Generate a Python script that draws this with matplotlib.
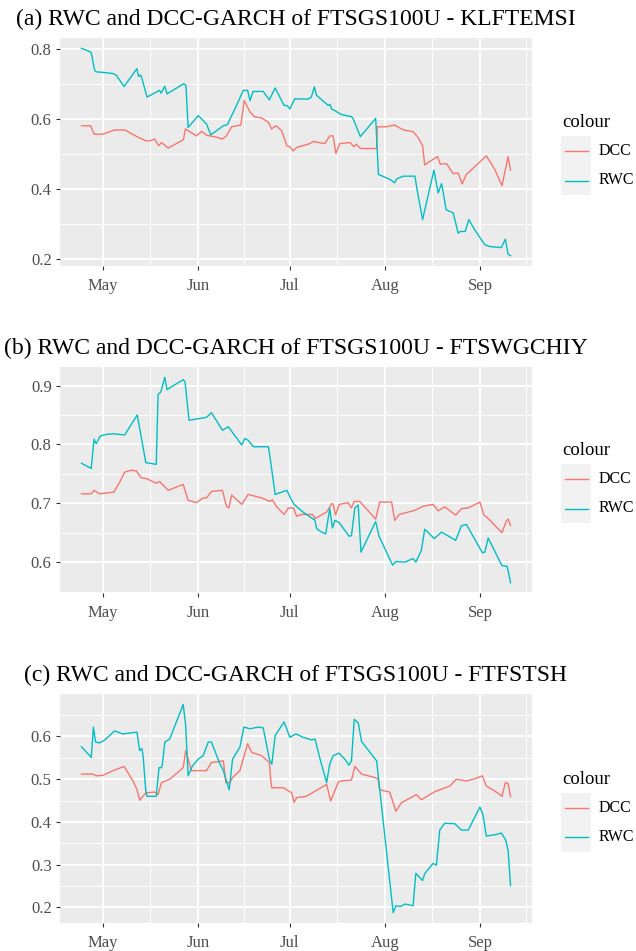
import pandas as pd
import matplotlib
matplotlib.use("Agg")
import matplotlib.pyplot as plt
import matplotlib.dates as mdates
from matplotlib.patches import Rectangle
from matplotlib.lines import Line2D

BASE_DATE = pd.Timestamp("2020-05-01")

# days counted from 1 May
a_rwc_day = [-7.0, -4.9, -3.8, -2.7, -2.2, 0.5, 3.3, 4.4, 6.9, 11.1, 11.6, 12.3, 12.8, 14.4, 17.4, 18.5, 19.0, 20.2, 20.9,
             26.4, 27.1, 27.8, 31.1, 33.8, 35.2, 39.3, 40.6, 43.6, 45.8, 47.2, 48.0, 49.0, 52.3, 54.3, 56.2, 59.1, 60.0,
             61.0, 62.6, 67.0, 68.0, 69.0, 69.7, 73.5, 74.1, 74.6, 75.7, 77.8, 81.1, 81.6, 84.0, 89.0, 89.9, 93.6, 95.2,
             95.8, 98.0, 101.8, 102.6, 104.3, 108.0, 109.4, 110.5, 112.0, 114.3, 115.9, 116.6, 118.2, 119.4, 121.3,
             124.6, 126.2, 130.0, 131.3, 132.2, 133.0]
a_rwc_val = [0.803, 0.796, 0.791, 0.740, 0.736, 0.734, 0.731, 0.726, 0.694, 0.745, 0.723, 0.727, 0.715, 0.664, 0.678,
             0.683, 0.675, 0.695, 0.673, 0.702, 0.697, 0.577, 0.611, 0.587, 0.556, 0.582, 0.585, 0.640, 0.683, 0.683,
             0.654, 0.680, 0.680, 0.656, 0.690, 0.640, 0.640, 0.630, 0.659, 0.658, 0.664, 0.693, 0.669, 0.640, 0.643,
             0.630, 0.625, 0.614, 0.608, 0.603, 0.551, 0.603, 0.443, 0.429, 0.419, 0.430, 0.438, 0.438, 0.395, 0.314,
             0.455, 0.390, 0.417, 0.342, 0.333, 0.275, 0.280, 0.280, 0.314, 0.285, 0.242, 0.237, 0.234, 0.258, 0.215,
             0.211]
a_dcc_day = [-7.0, -4.0, -2.9, 0.0, 3.8, 7.1, 11.5, 14.0, 15.3, 16.9, 18.2, 19.1, 21.3, 25.6, 26.3, 26.9, 30.5, 32.2,
             33.8, 37.1, 39.0, 40.3, 42.0, 45.0, 46.1, 48.0, 49.4, 51.8, 54.0, 55.0, 56.5, 58.3, 60.0, 61.0, 62.1, 63.2,
             65.3, 67.5, 68.6, 72.4, 74.0, 75.1, 76.0, 77.3, 80.6, 81.9, 82.7, 84.0, 89.3, 89.5, 92.5, 95.2, 98.0, 101.2,
             102.8, 104.3, 105.0, 107.2, 109.2, 110.1, 112.1, 114.3, 115.9, 117.2, 118.6, 125.1, 127.8, 130.2, 132.2,
             133.0]
a_dcc_val = [0.582, 0.582, 0.558, 0.558, 0.570, 0.570, 0.549, 0.539, 0.539, 0.544, 0.525, 0.534, 0.518, 0.539, 0.543,
             0.573, 0.553, 0.566, 0.555, 0.549, 0.544, 0.553, 0.579, 0.584, 0.654, 0.621, 0.608, 0.604, 0.592, 0.573,
             0.582, 0.568, 0.525, 0.522, 0.510, 0.520, 0.525, 0.531, 0.537, 0.531, 0.553, 0.553, 0.503, 0.531, 0.534,
             0.522, 0.529, 0.517, 0.517, 0.579, 0.579, 0.584, 0.570, 0.565, 0.549, 0.525, 0.470, 0.483, 0.494, 0.472,
             0.474, 0.445, 0.447, 0.416, 0.443, 0.496, 0.458, 0.411, 0.494, 0.455]

b_rwc_day = [-7.0, -3.8, -2.9, -2.2, -0.9, 1.1, 3.3, 7.1, 11.2, 14.0, 15.3, 17.4, 18.0, 18.9, 20.2, 20.9, 26.2, 26.8,
             28.1, 33.8, 35.4, 39.0, 40.9, 45.3, 46.3, 47.4, 49.1, 54.0, 54.5, 56.2, 60.0, 61.6, 62.4, 65.3, 69.2, 69.7,
             71.3, 72.7, 74.0, 74.9, 75.7, 77.1, 80.3, 81.1, 82.2, 83.3, 84.2, 89.0, 90.1, 94.5, 95.6, 98.5, 101.2,
             102.1, 103.9, 105.0, 108.1, 110.5, 115.1, 117.0, 118.6, 123.8, 124.6, 125.7, 130.2, 131.9, 133.0]
b_rwc_val = [0.768, 0.759, 0.809, 0.801, 0.814, 0.817, 0.818, 0.816, 0.850, 0.769, 0.768, 0.766, 0.885, 0.889, 0.914,
             0.893, 0.910, 0.906, 0.841, 0.846, 0.854, 0.824, 0.830, 0.799, 0.810, 0.807, 0.796, 0.796, 0.779, 0.715,
             0.722, 0.705, 0.698, 0.685, 0.671, 0.657, 0.651, 0.648, 0.691, 0.658, 0.671, 0.667, 0.644, 0.645, 0.692,
             0.697, 0.617, 0.669, 0.644, 0.595, 0.601, 0.600, 0.606, 0.600, 0.620, 0.656, 0.640, 0.651, 0.637, 0.662,
             0.664, 0.616, 0.617, 0.641, 0.594, 0.593, 0.565]
b_dcc_day = [-7.0, -3.8, -2.9, -1.1, 3.6, 5.5, 7.1, 9.3, 10.9, 12.5, 14.2, 17.4, 18.5, 21.3, 26.2, 27.8, 30.5, 32.7,
             33.8, 35.4, 39.0, 40.3, 41.1, 42.0, 45.3, 47.4, 51.8, 54.5, 55.3, 56.7, 59.1, 60.5, 62.2, 63.2, 64.8, 68.4,
             69.2, 73.0, 74.6, 75.1, 75.9, 77.1, 80.0, 81.1, 82.0, 83.8, 89.0, 90.3, 94.2, 95.2, 96.7, 101.8, 104.5,
             107.7, 109.4, 111.5, 115.1, 117.0, 119.2, 123.0, 124.3, 125.1, 130.2, 131.7, 132.2, 133.0]
b_dcc_val = [0.716, 0.716, 0.722, 0.716, 0.719, 0.736, 0.753, 0.756, 0.755, 0.743, 0.742, 0.734, 0.737, 0.722, 0.732,
             0.705, 0.701, 0.709, 0.709, 0.720, 0.722, 0.695, 0.692, 0.714, 0.698, 0.715, 0.709, 0.703, 0.706, 0.694,
             0.681, 0.692, 0.692, 0.678, 0.681, 0.681, 0.674, 0.685, 0.699, 0.699, 0.680, 0.698, 0.701, 0.692, 0.703,
             0.703, 0.673, 0.702, 0.702, 0.671, 0.681, 0.688, 0.695, 0.698, 0.687, 0.694, 0.680, 0.691, 0.692, 0.702,
             0.680, 0.677, 0.650, 0.671, 0.673, 0.662]

c_rwc_day = [-7.0, -3.8, -3.1, -2.4, -1.1, 0.5, 3.8, 6.5, 11.1, 12.0, 12.7, 13.1, 14.0, 14.4, 17.4, 18.3, 19.1, 19.4,
             20.2, 21.8, 26.2, 27.0, 27.8, 29.2, 31.1, 32.7, 34.4, 35.4, 38.0, 39.3, 41.2, 42.3, 44.7, 46.0, 48.0, 50.7,
             52.3, 54.3, 55.1, 56.2, 59.1, 61.0, 63.0, 65.3, 68.1, 69.2, 71.0, 73.0, 74.0, 75.1, 77.0, 78.9, 80.3, 81.1,
             82.0, 83.3, 84.4, 89.3, 94.7, 95.6, 97.0, 98.5, 101.2, 102.1, 104.3, 105.0, 107.7, 108.8, 109.9, 111.5,
             114.8, 117.0, 119.2, 123.0, 124.0, 125.1, 127.8, 130.0, 131.4, 132.2, 133.0]
c_rwc_val = [0.576, 0.551, 0.622, 0.587, 0.585, 0.591, 0.613, 0.606, 0.610, 0.567, 0.572, 0.556, 0.472, 0.460, 0.460,
             0.527, 0.527, 0.535, 0.587, 0.594, 0.675, 0.626, 0.508, 0.531, 0.547, 0.555, 0.587, 0.587, 0.539, 0.520,
             0.475, 0.547, 0.575, 0.622, 0.618, 0.622, 0.620, 0.547, 0.535, 0.602, 0.634, 0.598, 0.606, 0.598, 0.592,
             0.594, 0.543, 0.492, 0.535, 0.555, 0.561, 0.547, 0.533, 0.543, 0.640, 0.632, 0.588, 0.543, 0.188, 0.204,
             0.202, 0.208, 0.204, 0.280, 0.263, 0.279, 0.303, 0.299, 0.381, 0.397, 0.396, 0.381, 0.381, 0.435, 0.417,
             0.367, 0.370, 0.374, 0.358, 0.334, 0.251]
c_dcc_day = [-7.0, -3.3, -2.2, 0.0, 3.3, 6.9, 9.8, 11.1, 12.0, 14.0, 16.9, 18.0, 19.1, 21.8, 26.2, 27.0, 28.9, 33.8,
             35.4, 39.3, 40.1, 41.4, 42.3, 44.7, 47.2, 48.5, 51.8, 54.3, 54.8, 55.1, 58.9, 61.6, 62.4, 63.2, 66.4, 69.2,
             73.0, 74.3, 76.8, 77.8, 81.1, 82.2, 84.4, 88.7, 89.8, 90.3, 93.6, 95.6, 97.4, 102.3, 103.9, 108.3, 113.2,
             115.3, 118.6, 121.3, 123.8, 125.1, 128.4, 130.2, 131.3, 132.2, 133.0]
c_dcc_val = [0.512, 0.512, 0.508, 0.509, 0.520, 0.530, 0.496, 0.476, 0.451, 0.468, 0.470, 0.464, 0.492, 0.500, 0.527,
             0.567, 0.520, 0.520, 0.539, 0.543, 0.492, 0.492, 0.504, 0.520, 0.583, 0.563, 0.555, 0.539, 0.496, 0.480,
             0.480, 0.468, 0.446, 0.457, 0.460, 0.472, 0.488, 0.449, 0.493, 0.496, 0.498, 0.530, 0.512, 0.504, 0.500,
             0.475, 0.470, 0.425, 0.445, 0.464, 0.452, 0.471, 0.484, 0.500, 0.496, 0.501, 0.508, 0.484, 0.470, 0.460,
             0.492, 0.490, 0.459]

titles = ["(a) RWC and DCC-GARCH of FTSGS100U - KLFTEMSI",
          "(b) RWC and DCC-GARCH of FTSGS100U - FTSWGCHIY",
          "(c) RWC and DCC-GARCH of FTSGS100U - FTFSTSH"]
y_breaks = [[0.2, 0.4, 0.6, 0.8], [0.6, 0.7, 0.8, 0.9], [0.2, 0.3, 0.4, 0.5, 0.6]]
month_breaks = ["2020-05-01", "2020-06-01", "2020-07-01", "2020-08-01", "2020-09-01"]
series_names = ["DCC", "RWC"]

DCC_COL = "#F8766D"
RWC_COL = "#00BFC4"
W, H = 636, 951

plt.rcParams['font.family'] = ['Liberation Serif', 'DejaVu Serif']

fig = plt.figure(figsize=(W / 100, H / 100), dpi=100)

# panel boxes in pixels: left, top, right, bottom
boxes = [(60, 38, 532, 266), (60, 367, 532, 593), (60, 694, 532, 923)]


def to_dates(days):
    return BASE_DATE + pd.to_timedelta(days, unit="D")


def expand(lo, hi, mult=0.05):
    r = hi - lo
    return lo - r * mult, hi + r * mult


def midpoints(breaks, lo, hi):
    step = breaks[1] - breaks[0]
    ext = [breaks[0] - step] + list(breaks) + [breaks[-1] + step]
    mids = [(ext[i] + ext[i + 1]) / 2 for i in range(len(ext) - 1)]
    return [m for m in mids if lo <= m <= hi]


panels = [(a_rwc_day, a_rwc_val, a_dcc_day, a_dcc_val),
          (b_rwc_day, b_rwc_val, b_dcc_day, b_dcc_val),
          (c_rwc_day, c_rwc_val, c_dcc_day, c_dcc_val)]

month_nums = [mdates.date2num(pd.Timestamp(m)) for m in month_breaks]
month_ext = [mdates.date2num(pd.Timestamp("2020-04-01"))] + month_nums + [mdates.date2num(pd.Timestamp("2020-10-01"))]

for i, (rd, rv, dd, dv) in enumerate(panels):
    l, t, r, b = boxes[i]
    ax = fig.add_axes([l / W, 1 - b / H, (r - l) / W, (b - t) / H])
    ax.set_facecolor("#EBEBEB")
    for s in ax.spines.values():
        s.set_visible(False)

    rdates = to_dates(rd)
    ddates = to_dates(dd)
    ax.plot(ddates, dv, color=DCC_COL, lw=1.0, zorder=3)
    ax.plot(rdates, rv, color=RWC_COL, lw=1.0, zorder=3)

    xs = list(mdates.date2num(rdates)) + list(mdates.date2num(ddates))
    xlo, xhi = expand(min(xs), max(xs))
    ylo, yhi = expand(min(rv + dv), max(rv + dv))
    ax.set_xlim(xlo, xhi)
    ax.set_ylim(ylo, yhi)

    ax.set_xticks(month_nums)
    ax.set_xticklabels([pd.Timestamp(m).strftime("%b") for m in month_breaks])
    xminor = [(month_ext[k] + month_ext[k + 1]) / 2 for k in range(len(month_ext) - 1)]
    ax.set_xticks([m for m in xminor if xlo <= m <= xhi], minor=True)

    ax.set_yticks(y_breaks[i])
    ax.set_yticklabels([f"{v:.1f}" for v in y_breaks[i]])
    ax.set_yticks(midpoints(y_breaks[i], ylo, yhi), minor=True)

    ax.grid(which="major", color="white", lw=1.3, zorder=0)
    ax.grid(which="minor", color="white", lw=0.65, zorder=0)
    ax.set_axisbelow(True)
    ax.tick_params(which="major", length=3, width=0.8, color="#333333",
                   labelcolor="#4D4D4D", labelsize=12)
    ax.tick_params(axis="x", which="major", pad=5.5)
    ax.tick_params(axis="y", which="major", pad=3)
    ax.tick_params(which="minor", length=0)

    ax.set_title(titles[i], fontsize=17, pad=9, loc="center", color="black")

    # legend drawn by hand, ggplot style
    c = (t + b) / 2
    fig.text(562 / W, 1 - (c - 25) / H, "colour", fontsize=13.5, va="baseline", ha="left")
    fig.add_artist(Rectangle((561 / W, 1 - (c + 43) / H), 30 / W, 59 / H,
                             transform=fig.transFigure, facecolor="#F2F2F2", edgecolor="none"))
    for k, (name, col) in enumerate(zip(series_names, [DCC_COL, RWC_COL])):
        ky = c - 1 + k * 29.5
        fig.add_artist(Line2D([565 / W, 588 / W], [1 - ky / H, 1 - ky / H],
                              transform=fig.transFigure, color=col, lw=1.0))
        fig.text(599 / W, 1 - ky / H, name, fontsize=11.5, va="center", ha="left")

fig.savefig("out.png", dpi=100)
